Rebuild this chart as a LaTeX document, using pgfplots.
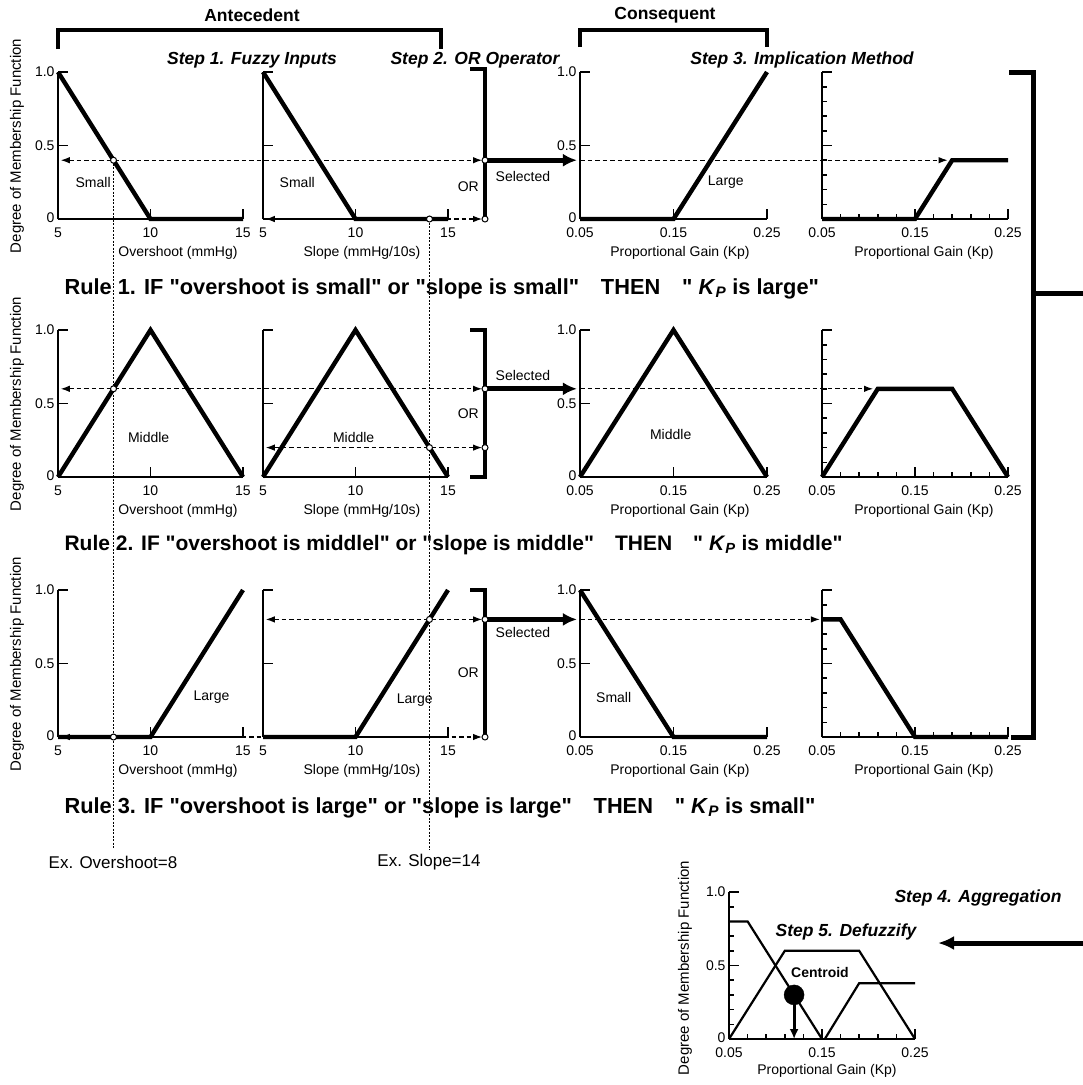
\documentclass[border=0pt]{standalone}
\usepackage{fontspec}
\setmainfont{Liberation Sans}[Ligatures=TeXOff]
\usepackage{pgfplots}
\pgfplotsset{compat=1.18}
\usetikzlibrary{arrows.meta}
\newcommand{\fs}[1]{\fontsize{#1}{#1}\selectfont}
\tikzset{
 dsh/.style={line width=1.1pt, dash pattern=on 4.5pt off 3pt},
 tipS/.style={-{Latex[length=9pt,width=6.5pt]}},
 tipB/.style={{Latex[length=9pt,width=6.5pt]}-{Latex[length=9pt,width=6.5pt]}},
 dotv/.style={line width=0.8pt, dash pattern=on 2pt off 1.5pt},
 sel/.style={line width=5pt, -{Latex[length=14pt,width=13pt]}},
 orb/.style={line width=4pt, line join=miter},
 lab/.style={font=\fs{14}},
 rule/.style={font=\bfseries\fs{21.8}, anchor=base west},
}
\pgfplotsset{
  base/.style={scale only axis, height=147pt, anchor=south west, ymin=0, ymax=1, clip=false,
    axis x line=bottom, axis y line=left, axis line style={-, line width=1.6pt},
    every outer x axis line/.append style={-}, every outer y axis line/.append style={-},
    tick align=inside, major tick length=10pt, minor tick length=5pt,
    every tick/.style={black, line width=1.6pt},
    ticklabel style={font=\fs{14}}, /pgf/number format/assume math mode=true,
    xticklabel style={yshift=-5pt},
  },
  ante/.style={base, width=185pt, xmin=5, xmax=15, xtick={5,10,15}, xticklabels={5,10,15}},
  anteA/.style={ante, ytick={0,0.5,1}, yticklabels={\raisebox{2pt}{0},0.5,1.0}},
  anteB/.style={ante, ytick={0.5,1}, yticklabels={,}},
  cons/.style={base, width=187pt, xmin=0.05, xmax=0.25, xtick={0.05,0.15,0.25}, xticklabels={0.05,0.15,0.25}, ytick={0,0.5,1}, yticklabels={\raisebox{3pt}{0},0.5,1.0}},
  agg/.style={base, width=186pt, xmin=0.05, xmax=0.25, xtick={0.05,0.15,0.25}, xticklabels={0.05,0.15,0.25},
    minor xtick={0.07,0.09,0.11,0.13,0.17,0.19,0.21,0.23}, minor ytick={0.1,0.2,0.3,0.4,0.6,0.7,0.8,0.9}},
  aggD/.style={agg, ytick={0.5,1}, yticklabels={,}},
  aggE/.style={agg, ytick={0,0.5,1}, yticklabels={\raisebox{3pt}{0},0.5,1.0}},
  mf/.style={line width=4.4pt, black, line join=miter},
  mfa/.style={line width=2.2pt, black, line join=miter},
  pt/.style={only marks, mark=*, mark size=3pt, mark options={fill=white, draw=black, line width=1pt}},
}
\begin{document}
\begin{tikzpicture}
\useasboundingbox (0pt,0pt) rectangle (1083pt,-1085pt);
% ---------- headers ----------
\node[font=\bfseries\fs{17.5}] at (252pt,-15pt) {Antecedent};
\draw[line width=4.5pt, line join=miter] (58pt,-49pt) -- (58pt,-30pt) -- (441pt,-30pt) -- (441pt,-49pt);
\node[font=\bfseries\fs{17.5}] at (665pt,-15pt) {Consequent};
\draw[line width=4.5pt, line join=miter] (580pt,-47pt) -- (580pt,-30pt) -- (767pt,-30pt) -- (767pt,-47pt);
\node[font=\bfseries\itshape\fs{17.5}] at (252pt,-60pt) {Step 1. Fuzzy Inputs};
\node[font=\bfseries\itshape\fs{17.5}] at (475pt,-60pt) {Step 2. OR Operator};
\node[font=\bfseries\itshape\fs{17.5}] at (802pt,-60pt) {Step 3. Implication Method};
% ---------- ROW 1 ----------
\begin{axis}[anteA, at={(58pt,-219pt)}]
\draw[dsh, tipB] (axis cs:5.15,0.4) -- (axis cs:27.92,0.4);
\draw[dotv] (axis cs:8,0.4) -- (axis cs:8,-4.29);
\addplot[mf] coordinates {(5,1)(10,0)(15,0)};
\addplot[pt] coordinates {(8,0.4)};
\node[lab] at (axis cs:6.9,0.25) {Small};
\end{axis}
\begin{axis}[anteB, at={(263pt,-219pt)}]
\draw[dsh, tipB] (axis cs:5.15,0) -- (axis cs:16.84,0);
\draw[dotv] (axis cs:14,0) -- (axis cs:14,-4.29);
\draw[orb] (axis cs:16.2,1.02) -- (axis cs:17,1.02) -- (axis cs:17,0);
\draw[sel] (axis cs:17,0.4) -- (axis cs:21.97,0.4);
\addplot[mf] coordinates {(5,1)(10,0)(15,0)};
\addplot[pt] coordinates {(14,0)(17,0.4)(17,0)};
\node[lab] at (axis cs:6.85,0.25) {Small};
\node[lab] at (axis cs:16.1,0.22) {OR};
\node[lab] at (axis cs:19.05,0.29) {Selected};
\end{axis}
\begin{axis}[cons, at={(580pt,-219pt)}]
\draw[dsh, tipS] (axis cs:0.05,0.4) -- (axis cs:0.4431,0.4);
\addplot[mf] coordinates {(0.05,0)(0.15,0)(0.25,1)};
\node[lab] at (axis cs:0.206,0.25) {Large};
\end{axis}
\begin{axis}[aggD, at={(822pt,-219pt)}]
\addplot[mf] coordinates {(0.05,0)(0.15,0)(0.19,0.4)(0.25,0.4)};
\end{axis}
\node[lab] at (178pt,-253pt) {Overshoot (mmHg)};
\node[lab] at (362pt,-253pt) {Slope (mmHg/10s)};
\node[lab] at (680pt,-253pt) {Proportional Gain (Kp)};
\node[lab] at (924pt,-253pt) {Proportional Gain (Kp)};
\node[font=\fs{15}, rotate=90] at (17pt,-146pt) {Degree of Membership Function};
\node[rule] at (61pt,-294pt) {Rule 1. IF "overshoot is small" or "slope is small"\quad THEN\quad " \textit{K}\textsubscript{\textit{P}} is large"};
% ---------- ROW 2 ----------
\begin{axis}[anteA, at={(58pt,-477pt)}]
\draw[dsh, tipB] (axis cs:5.15,0.6) -- (axis cs:27.92,0.6);
\addplot[mf] coordinates {(5,0)(10,1)(15,0)};
\addplot[pt] coordinates {(8,0.6)};
\node[lab] at (axis cs:9.9,0.27) {Middle};
\end{axis}
\begin{axis}[anteB, at={(263pt,-477pt)}]
\draw[dsh, tipB] (axis cs:5.15,0.2) -- (axis cs:16.84,0.2);
\draw[orb] (axis cs:16.2,1) -- (axis cs:17,1) -- (axis cs:17,0) -- (axis cs:16.2,0);
\draw[sel] (axis cs:17,0.6) -- (axis cs:21.97,0.6);
\addplot[mf] coordinates {(5,0)(10,1)(15,0)};
\addplot[pt] coordinates {(14,0.2)(17,0.6)(17,0.2)};
\node[lab] at (axis cs:9.9,0.27) {Middle};
\node[lab] at (axis cs:16.1,0.43) {OR};
\node[lab] at (axis cs:19.05,0.69) {Selected};
\end{axis}
\begin{axis}[cons, at={(580pt,-477pt)}]
\draw[dsh, tipS] (axis cs:0.05,0.6) -- (axis cs:0.3634,0.6);
\addplot[mf] coordinates {(0.05,0)(0.15,1)(0.25,0)};
\node[lab] at (axis cs:0.147,0.29) {Middle};
\end{axis}
\begin{axis}[aggD, at={(822pt,-477pt)}]
\addplot[mf] coordinates {(0.05,0)(0.11,0.6)(0.19,0.6)(0.25,0)};
\end{axis}
\node[lab] at (178pt,-511pt) {Overshoot (mmHg)};
\node[lab] at (362pt,-511pt) {Slope (mmHg/10s)};
\node[lab] at (680pt,-511pt) {Proportional Gain (Kp)};
\node[lab] at (924pt,-511pt) {Proportional Gain (Kp)};
\node[font=\fs{15}, rotate=90] at (17pt,-404pt) {Degree of Membership Function};
\node[rule, font=\bfseries\fs{21}] at (61pt,-550pt) {Rule 2. IF "overshoot is middlel" or "slope is middle"\quad THEN\quad " \textit{K}\textsubscript{\textit{P}} is middle"};
% ---------- ROW 3 ----------
\begin{axis}[anteA, at={(58pt,-737pt)}]
\draw[dsh, tipB] (axis cs:5.15,0) -- (axis cs:27.92,0);
\addplot[mf] coordinates {(5,0)(10,0)(15,1)};
\addplot[pt] coordinates {(8,0)};
\node[lab] at (axis cs:13.3,0.27) {Large};
\end{axis}
\begin{axis}[anteB, at={(263pt,-737pt)}]
\draw[dsh, tipB] (axis cs:5.15,0.8) -- (axis cs:16.84,0.8);
\draw[orb] (axis cs:16.2,1) -- (axis cs:17,1) -- (axis cs:17,0);
\draw[sel] (axis cs:17,0.8) -- (axis cs:21.97,0.8);
\addplot[mf] coordinates {(5,0)(10,0)(15,1)};
\addplot[pt] coordinates {(14,0.8)(17,0.8)(17,0)};
\node[lab] at (axis cs:13.2,0.25) {Large};
\node[lab] at (axis cs:16.1,0.44) {OR};
\node[lab] at (axis cs:19.05,0.71) {Selected};
\end{axis}
\begin{axis}[cons, at={(580pt,-737pt)}]
\draw[dsh, tipS] (axis cs:0.05,0.8) -- (axis cs:0.3065,0.8);
\addplot[mf] coordinates {(0.05,1)(0.15,0)(0.25,0)};
\node[lab] at (axis cs:0.086,0.27) {Small};
\end{axis}
\begin{axis}[aggD, at={(822pt,-737pt)}]
\addplot[mf] coordinates {(0.05,0.8)(0.07,0.8)(0.15,0)(0.25,0)};
\end{axis}
\node[lab] at (178pt,-771pt) {Overshoot (mmHg)};
\node[lab] at (362pt,-771pt) {Slope (mmHg/10s)};
\node[lab] at (680pt,-771pt) {Proportional Gain (Kp)};
\node[lab] at (924pt,-771pt) {Proportional Gain (Kp)};
\node[font=\fs{15}, rotate=90] at (17pt,-664pt) {Degree of Membership Function};
\node[rule] at (61pt,-813pt) {Rule 3. IF "overshoot is large" or "slope is large"\quad THEN\quad " \textit{K}\textsubscript{\textit{P}} is small"};
% ---------- bottom ----------
\node[font=\fs{17}] at (113pt,-862pt) {Ex. Overshoot=8};
\node[font=\fs{17}] at (429pt,-862pt) {Ex. Slope=14};
% right bracket
\draw[line width=5pt, line join=miter] (1009pt,-72pt) -- (1033pt,-72pt) -- (1033pt,-737pt) -- (1011pt,-737pt);
\draw[line width=5pt] (1033pt,-293pt) -- (1083pt,-293pt);
\draw[line width=5pt, -{Latex[length=16pt,width=14pt]}] (1083pt,-943pt) -- (938pt,-943pt);
\node[font=\bfseries\itshape\fs{17.5}] at (978pt,-898pt) {Step 4. Aggregation};
\node[font=\bfseries\itshape\fs{17.5}] at (846pt,-932pt) {Step 5. Defuzzify};
\node[font=\bfseries\fs{14}] at (820pt,-972pt) {Centroid};
% aggregate
\begin{axis}[aggE, at={(729pt,-1039pt)}]
\addplot[mfa] coordinates {(0.05,0.8)(0.07,0.8)(0.15,0)};
\addplot[mfa] coordinates {(0.05,0)(0.11,0.6)(0.19,0.6)(0.25,0)};
\addplot[mfa] coordinates {(0.153,0)(0.19,0.38)(0.25,0.38)};
\draw[line width=3pt, -{Latex[length=10pt,width=9pt]}] (axis cs:0.12,0.28) -- (axis cs:0.12,0.0);
\addplot[only marks, mark=*, mark size=10pt, black] coordinates {(0.12,0.3)};
\end{axis}
\node[lab] at (827pt,-1071pt) {Proportional Gain (Kp)};
\node[font=\fs{15}, rotate=90] at (685pt,-968pt) {Degree of Membership Function};
\end{tikzpicture}
\end{document}
